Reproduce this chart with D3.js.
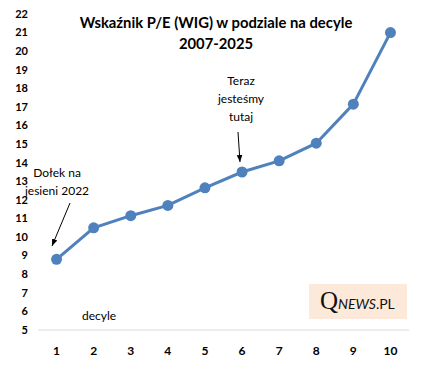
<!DOCTYPE html>
<html>
<head>
<meta charset="utf-8">
<script src="https://cdn.jsdelivr.net/npm/d3@7"></script>
<style>
  body { margin: 0; background: #fff; }
  svg { font-family: Lato, "Open Sans", sans-serif; }
</style>
</head>
<body>
<svg id="chart" width="423" height="369"></svg>
<script>
// data
var deciles = [1, 2, 3, 4, 5, 6, 7, 8, 9, 10];
var peValues = [8.8, 10.5, 11.15, 11.7, 12.65, 13.5, 14.1, 15.05, 17.15, 21.0];
var yTicks = d3.range(5, 23);
var titleLines = ['Wskaźnik P/E (WIG) w podziale na decyle', '2007-2025'];

var svg = d3.select('#chart');
var margin = { top: 14, right: 14, bottom: 39, left: 38 };
var width = 423, height = 369;

var xScale = d3.scalePoint()
  .domain(deciles)
  .range([margin.left, width - margin.right])
  .padding(0.5);

var yScale = d3.scaleLinear()
  .domain([5, 22])
  .range([height - margin.bottom, margin.top]);

// x axis line + labels
svg.append('line')
  .attr('x1', margin.left).attr('x2', width - margin.right)
  .attr('y1', yScale(5)).attr('y2', yScale(5))
  .style('stroke', '#d9d9d9').style('stroke-width', 1);

svg.selectAll('.xlab')
  .data(deciles)
  .enter().append('text')
  .attr('class', 'xlab')
  .attr('x', d => xScale(d))
  .attr('y', yScale(5) + 25)
  .attr('text-anchor', 'middle')
  .style('font-weight', 'bold')
  .style('font-size', '12px')
  .text(d => d);

// y labels (no axis line in the original)
svg.selectAll('.ylab')
  .data(yTicks)
  .enter().append('text')
  .attr('class', 'ylab')
  .attr('x', 28)
  .attr('y', d => yScale(d))
  .attr('dy', '0.35em')
  .attr('text-anchor', 'end')
  .style('font-weight', 'bold')
  .style('font-size', '11px')
  .text(d => d);

// title
svg.selectAll('.title')
  .data(titleLines)
  .enter().append('text')
  .attr('class', 'title')
  .attr('x', 216)
  .attr('y', (d, i) => 28 + i * 21)
  .attr('text-anchor', 'middle')
  .style('font-weight', 'bold')
  .style('font-size', '14.8px')
  .text(d => d);

// the line
var line = d3.line()
  .x((d, i) => xScale(deciles[i]))
  .y(d => yScale(d));

svg.append('path')
  .datum(peValues)
  .attr('d', line)
  .style('fill', 'none')
  .style('stroke', '#4f81bd')
  .style('stroke-width', 3);

svg.selectAll('.dot')
  .data(peValues)
  .enter().append('circle')
  .attr('class', 'dot')
  .attr('cx', (d, i) => xScale(deciles[i]))
  .attr('cy', d => yScale(d))
  .attr('r', 5.5)
  .style('fill', '#4f81bd');

// arrows
svg.append('defs').append('marker')
  .attr('id', 'arrow')
  .attr('viewBox', '0 0 10 10')
  .attr('refX', 10).attr('refY', 5)
  .attr('markerWidth', 7).attr('markerHeight', 7)
  .attr('orient', 'auto')
  .append('path')
  .attr('d', 'M0,1 L10,5 L0,9 z')
  .style('fill', '#000');

function annotate(lines, cx, y0, lineH, x1, y1, x2, y2) {
  svg.selectAll(null)
    .data(lines)
    .enter().append('text')
    .attr('x', cx)
    .attr('y', (d, i) => y0 + i * lineH)
    .attr('text-anchor', 'middle')
    .style('font-size', '12px')
    .text(d => d);
  svg.append('line')
    .attr('x1', x1).attr('y1', y1)
    .attr('x2', x2).attr('y2', y2)
    .style('stroke', '#000').style('stroke-width', 1)
    .attr('marker-end', 'url(#arrow)');
}

annotate(['Dołek na', 'jesieni 2022'], 57, 177, 18, 70, 203, 52, 246);
annotate(['Teraz', 'jesteśmy', 'tutaj'], 241, 85, 18, 238, 132, 240, 162);

// "decyle" label
svg.append('text')
  .attr('x', 99).attr('y', 320)
  .attr('text-anchor', 'middle')
  .style('font-size', '12px')
  .text('decyle');

// QNEWS.PL logo
var logo = svg.append('g');
logo.append('rect')
  .attr('x', 309).attr('y', 284)
  .attr('width', 98).attr('height', 35)
  .style('fill', '#fde9d9');
var lt = logo.append('text')
  .attr('x', 320).attr('y', 309)
  .style('fill', '#111');
lt.append('tspan')
  .style('font-family', '"Liberation Serif", serif')
  .style('font-size', '25px')
  .text('Q');
lt.append('tspan')
  .style('font-size', '14px')
  .style('font-style', 'italic')
  .text('NEWS');
lt.append('tspan')
  .style('font-size', '14px')
  .text('.PL');
</script>
</body>
</html>
